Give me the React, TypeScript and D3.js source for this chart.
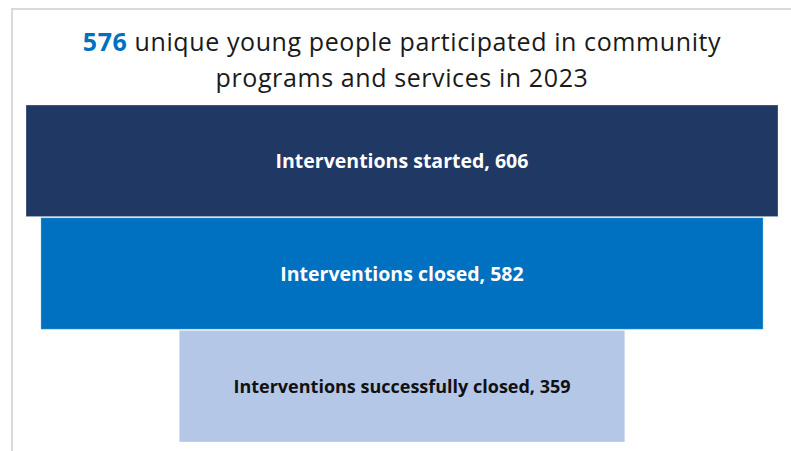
import { useMemo } from 'react';
import * as d3 from 'd3';

const stages = [
  'Interventions started',
  'Interventions closed',
  'Interventions successfully closed',
];
const counts = [606, 582, 359];
const barColors = ['#203864', '#0070C0', '#B4C7E7'];
const labelColors = ['#ffffff', '#ffffff', '#111111'];
const uniqueYoungPeople = 576;
const titleLine1 = 'unique young people participated in community';
const titleLine2 = 'programs and services in 2023';

const width = 791;
const height = 451;
const FONT = '"Open Sans", "Noto Sans", sans-serif';

export default function App() {
  const xScale = useMemo(() => {
    return d3.scaleLinear().domain([0, d3.max(counts)!]).range([0, 752]);
  }, []);

  const yScale = useMemo(() => {
    return d3.scaleBand().domain(stages).range([105, 442]).paddingInner(0.01);
  }, []);

  const centerX = 402;

  return (
    <svg
      width={width}
      height={height}
      style={{ position: 'absolute', left: 0, top: 0, background: '#fff' }}
    >
      {/* frame, cut off at the right and bottom like the screenshot */}
      <rect
        x={12}
        y={9}
        width={width + 20}
        height={height + 20}
        fill="none"
        stroke="#d9d9d9"
        strokeWidth={2}
      />

      <text
        x={centerX}
        y={51}
        textAnchor="middle"
        fontFamily={FONT}
        fontSize={25}
        letterSpacing={0.6}
        fill="#1a1a1a"
      >
        <tspan fill="#0070C0" fontWeight="bold">
          {uniqueYoungPeople}
        </tspan>{' '}
        {titleLine1}
      </text>
      <text
        x={centerX}
        y={87}
        textAnchor="middle"
        fontFamily={FONT}
        fontSize={25}
        letterSpacing={0.6}
        fill="#1a1a1a"
      >
        {titleLine2}
      </text>

      {stages.map((stage, i) => {
        const w = xScale(counts[i]);
        const y = yScale(stage)!;
        return (
          <g key={stage}>
            <rect
              x={centerX - w / 2}
              y={y}
              width={w}
              height={yScale.bandwidth()}
              fill={barColors[i]}
              stroke="#ffffff"
              strokeOpacity={0.3}
              strokeWidth={1}
            />
            <text
              x={centerX}
              y={y + yScale.bandwidth() / 2}
              textAnchor="middle"
              dominantBaseline="central"
              fontFamily={FONT}
              fontWeight="bold"
              fontSize={i === 2 ? 18 : 19.5}
              fill={labelColors[i]}
            >
              {`${stage}, ${counts[i]}`}
            </text>
          </g>
        );
      })}
    </svg>
  );
}
